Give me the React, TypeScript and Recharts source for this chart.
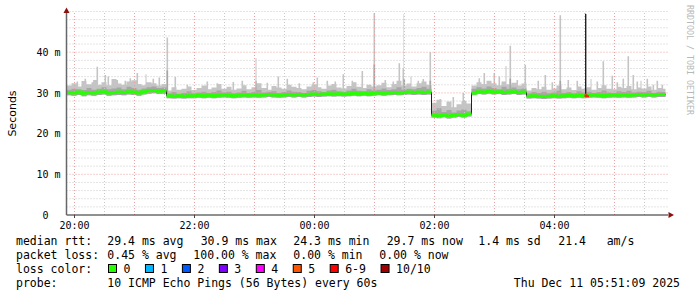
import React from 'react';
import { ComposedChart, Area, Line, XAxis, YAxis, ReferenceLine } from 'recharts';

// ---- data (ms), sampled every 5 minutes starting at 19:52 ----
const STEP_MIN = 5;
const DATA_END_MIN = 599;
const SPIKE_WIDTH_MIN = 1.6;

const medianMs = [
  30.1, 30.0, 30.2, 29.9, 30.1, 30.0, 30.2, 30.3, 30.0, 30.1, 30.2, 30.1, 30.3, 30.2, 30.0, 30.3, 30.5, 30.6, 30.4, 30.5,
  29.3, 29.2, 29.3, 29.2, 29.3, 29.3, 29.4, 29.3, 29.4, 29.3, 29.4, 29.5, 29.4, 29.3, 29.4, 29.5, 29.4, 29.5, 29.4, 29.5,
  29.6, 29.5, 29.4, 29.5, 29.6, 29.5, 29.6, 29.5, 29.6, 29.7, 29.6, 29.7, 29.8, 29.7, 29.8, 29.7, 29.8, 29.9, 29.8, 29.9,
  29.8, 29.9, 30.0, 29.9, 30.0, 30.1, 30.0, 30.1, 30.2, 30.1, 30.2, 30.1, 30.2,
  24.5, 24.4, 24.6, 24.3, 24.5, 24.7, 24.5, 24.8,
  30.0, 30.3, 30.2, 30.4, 30.2, 30.3, 30.1, 30.2, 30.3, 30.1, 30.2,
  29.2, 29.3, 29.2, 29.1, 29.2, 29.3, 29.2, 29.3, 29.4, 29.3, 29.4, 29.3, 29.4, 29.5, 29.4, 29.3, 29.4, 29.5, 29.4, 29.5,
  29.4, 29.5, 29.6, 29.5, 29.6, 29.5, 29.6, 29.6,
];

const smokeHiMs = [
  31.8, 32.4, 31.6, 32.9, 32.1, 33.2, 32.0, 32.6, 31.9, 33.4, 32.3, 32.0, 32.8, 33.1, 32.2, 31.9, 32.6, 32.4, 31.8, 32.2,
  30.6, 31.4, 30.8, 31.0, 31.6, 30.7, 31.2, 31.8, 30.9, 31.3, 32.2, 31.0, 31.5, 30.8, 31.1, 31.9, 30.9, 31.4, 32.4, 31.2,
  30.8, 31.7, 31.3, 31.0, 32.0, 31.5, 31.2, 30.9, 31.6, 32.1, 31.4, 31.0, 31.8, 32.2, 31.3, 31.1, 31.7, 32.6, 31.5, 31.2,
  32.0, 31.6, 31.9, 32.5, 31.4, 32.2, 33.0, 31.8, 32.3, 31.6, 32.4, 32.8, 32.0,
  27.6, 28.3, 26.8, 27.9, 26.5, 27.2, 28.0, 27.4,
  31.8, 32.6, 32.2, 33.0, 32.4, 31.9, 32.8, 32.1, 32.5, 31.8, 32.3,
  30.6, 31.2, 30.9, 31.5, 30.8, 31.1, 31.8, 30.9, 31.3, 30.7, 31.6, 31.0, 31.4, 30.8, 31.2, 31.9, 31.0, 30.9, 31.5, 31.2,
  31.7, 30.9, 31.3, 31.1, 31.6, 30.8, 31.2, 31.0,
];

const smokeMidMs = [
  30.8, 31.0, 30.9, 30.7, 31.2, 30.8, 31.0, 31.4, 30.9, 31.1, 31.3, 30.9, 31.5, 31.2, 30.8, 31.1, 31.4, 31.6, 31.2, 31.3,
  29.9, 30.2, 29.8, 30.0, 30.4, 29.9, 30.1, 30.3, 30.0, 30.2, 30.6, 30.1, 30.3, 29.9, 30.1, 30.5, 30.0, 30.2, 30.7, 30.1,
  30.3, 30.4, 30.0, 30.2, 30.6, 30.3, 30.2, 30.0, 30.5, 30.7, 30.4, 30.2, 30.6, 30.8, 30.4, 30.3, 30.6, 31.0, 30.5, 30.4,
  30.9, 30.6, 30.8, 31.1, 30.7, 30.9, 31.4, 30.8, 31.0, 30.9, 31.2, 31.5, 31.0,
  25.6, 26.2, 25.3, 25.8, 25.2, 25.7, 26.0, 25.5,
  31.0, 31.4, 31.1, 31.6, 31.2, 30.9, 31.5, 31.0, 31.3, 30.9, 31.1,
  29.9, 30.2, 30.0, 30.3, 29.9, 30.1, 30.5, 30.0, 30.2, 29.9, 30.4, 30.1, 30.3, 30.0, 30.2, 30.6, 30.1, 30.0, 30.4, 30.2,
  30.5, 30.1, 30.3, 30.2, 30.5, 30.0, 30.3, 30.2,
];

const smokeLoMs = [
  29.4, 29.3, 29.5, 29.2, 29.4, 29.3, 29.5, 29.6, 29.3, 29.4, 29.5, 29.4, 29.6, 29.5, 29.3, 29.6, 29.8, 29.9, 29.7, 29.8,
  28.7, 28.6, 28.7, 28.6, 28.7, 28.7, 28.8, 28.7, 28.8, 28.7, 28.8, 28.9, 28.8, 28.7, 28.8, 28.9, 28.8, 28.9, 28.8, 28.9,
  29.0, 28.9, 28.8, 28.9, 29.0, 28.9, 29.0, 28.9, 29.0, 29.1, 29.0, 29.1, 29.2, 29.1, 29.2, 29.1, 29.2, 29.3, 29.2, 29.3,
  29.2, 29.3, 29.4, 29.3, 29.4, 29.5, 29.4, 29.5, 29.6, 29.5, 29.6, 29.5, 29.6,
  23.9, 23.8, 24.0, 23.7, 23.9, 24.1, 23.9, 24.2,
  29.4, 29.7, 29.6, 29.8, 29.6, 29.7, 29.5, 29.6, 29.7, 29.5, 29.6,
  28.6, 28.7, 28.6, 28.5, 28.6, 28.7, 28.6, 28.7, 28.8, 28.7, 28.8, 28.7, 28.8, 28.9, 28.8, 28.7, 28.8, 28.9, 28.8, 28.9,
  28.8, 28.9, 29.0, 28.9, 29.0, 28.9, 29.0, 29.0,
];

// [minute offset from 19:52, peak ms]
const smokeSpikes: [number, number][] = [
  [10, 32.8], [18, 33.5], [25, 32.6], [30, 36.4], [38, 34.4], [41, 34.0], [50, 33.2], [58, 33.0], [63, 33.6],
  [70, 34.9], [79, 34.6], [86, 33.5], [92, 33.8], [100, 43.6], [108, 33.9], [120, 32.0], [140, 32.8], [150, 32.4],
  [166, 32.7], [175, 33.0], [189, 38.5], [200, 32.5], [211, 34.0], [220, 33.5], [232, 32.4], [246, 32.6],
  [250, 33.8], [260, 33.0], [268, 32.8], [276, 34.6], [285, 33.0], [295, 35.4], [307, 49.6], [318, 33.2],
  [326, 32.8], [332, 37.3], [336, 36.0], [337, 49.4], [344, 34.0], [351, 33.0], [356, 33.4], [363, 40.0],
  [373, 28.5], [386, 29.0], [396, 30.0], [412, 33.6], [417, 34.9], [427, 34.9], [432, 34.0], [439, 36.6],
  [443, 41.6], [450, 33.2], [458, 36.9], [471, 33.0], [478, 34.4], [485, 32.6], [493, 49.1], [501, 33.2],
  [510, 33.0], [524, 33.4], [530, 32.8], [536, 37.8], [545, 34.2], [550, 32.6], [556, 33.5], [561, 39.0],
  [566, 34.4], [570, 32.8], [574, 33.0], [580, 33.5], [586, 32.0], [590, 33.0], [595, 32.0],
];
const midSpikes: [number, number][] = [
  [100, 35.5], [189, 33.0], [307, 37.0], [337, 33.5], [363, 33.0], [443, 33.5], [493, 33.0],
];
const medianSpikes: [number, number][] = [[519, 49.4]];
const medianBreaks = [100, 365, 405, 460];
const lossMarkMinutes = [518, 521];

const xTickMinutes = [8, 128, 248, 368, 488];
const xTickLabels = ['20:00', '22:00', '00:00', '02:00', '04:00'];
const yTicks = [0, 10, 20, 30, 40];
const majorGridMinutes = [8, 68, 128, 188, 248, 308, 368, 428, 488, 548];
const minorGridMinutes = [38, 98, 158, 218, 278, 338, 398, 458, 518, 578];
const majorGridMs = [10, 20, 30, 40];
const minorGridMs = [2, 4, 6, 8, 12, 14, 16, 18, 22, 24, 26, 28, 32, 34, 36, 38, 42, 44, 46, 48, 50];

const statRows: string[][] = [
  ['median rtt:', '29.4 ms avg', '30.9 ms max', '24.3 ms min', '29.7 ms now', '1.4 ms sd', '21.4', 'am/s'],
  ['packet loss:', '0.45 % avg', '100.00 % max', '0.00 % min', '0.00 % now'],
];
const lossLabels = ['0', '1', '2', '3', '4', '5', '6-9', '10/10'];
const lossColors = ['#26ff00', '#00b8ff', '#0059ff', '#7e00ff', '#ff00ff', '#ff5500', '#ff0000', '#a10000'];
const probeText = '10 ICMP Echo Pings (56 Bytes) every 60s';
const stampText = 'Thu Dec 11 05:51:09 2025';
const watermark = 'RRDTOOL / TOBI OETIKER';

// ---- build series rows ----
type BandRow = { t: number; range: [number, number]; p: number };
function buildBand(hi: number[], lo: number[], spikes: [number, number][]) {
  const rows: BandRow[] = hi.map((h, i) => ({ t: i * STEP_MIN, range: [lo[i], h], p: 0 }));
  spikes.forEach(([t, v]) => {
    const i = Math.floor(t / STEP_MIN);
    rows.push({ t, range: [lo[i], v], p: 1 });
    const end = t + SPIKE_WIDTH_MIN;
    if (end < (i + 1) * STEP_MIN) rows.push({ t: end, range: [lo[i], hi[i]], p: 2 });
  });
  const last = hi.length - 1;
  rows.push({ t: DATA_END_MIN, range: [lo[last], hi[last]], p: 3 });
  rows.sort((a, b) => a.t - b.t || a.p - b.p);
  return rows;
}
const lightBand = buildBand(smokeHiMs, smokeLoMs, smokeSpikes);
const darkBand = buildBand(smokeMidMs, smokeLoMs, midSpikes);

type LineRow = { t: number; v: number | null; p: number };
const blackRows: LineRow[] = medianMs.map((v, i) => ({ t: i * STEP_MIN, v, p: 0 }));
medianSpikes.forEach(([t, v]) => {
  const i = Math.floor(t / STEP_MIN);
  blackRows.push({ t, v, p: 1 });
  blackRows.push({ t: t + 0.4, v: medianMs[i], p: 2 });
});
blackRows.push({ t: DATA_END_MIN, v: medianMs[medianMs.length - 1], p: 3 });
blackRows.sort((a, b) => a.t - b.t || a.p - b.p);

const greenRows: { t: number; v: number | null }[] = [];
medianMs.forEach((v, i) => {
  const t = i * STEP_MIN;
  if (medianBreaks.includes(t)) {
    greenRows.push({ t, v: medianMs[i - 1] });
    greenRows.push({ t, v: null });
  }
  greenRows.push({ t, v });
});
greenRows.push({ t: DATA_END_MIN, v: medianMs[medianMs.length - 1] });

const lossRows = lossMarkMinutes.map((t) => ({ t, v: medianMs[Math.floor(t / STEP_MIN)] }));

const MONO = 'DejaVu Sans Mono, monospace';

const YTick = (props: any) => {
  const { x, y, payload } = props;
  const label = payload.value === 0 ? '0  ' : `${payload.value} m`;
  return (
    <text x={x} y={y} dy={3.6} textAnchor="end" fontFamily={MONO} fontSize={10} fill="#000" style={{ whiteSpace: 'pre' }}>
      {label}
    </text>
  );
};

const XTick = (props: any) => {
  const { x, payload } = props;
  const idx = xTickMinutes.indexOf(payload.value);
  return (
    <text x={x} y={228.5} textAnchor="middle" fontFamily={MONO} fontSize={10} fill="#000">
      {xTickLabels[idx]}
    </text>
  );
};

const CH = 6.95;

export default function App() {
  const rowY = [245, 259, 273, 287];
  const statX = [
    [16, 107.3, 200.7, 293.3, 386.7, 478.3, 558.3, 606.7],
    [16, 107.3, 193.3, 293.3, 379.3],
  ];
  const boxXs: number[] = [];
  let bx = 108.5;
  lossLabels.forEach((l) => {
    boxXs.push(bx);
    bx = bx + 15 + l.length * CH + 15;
  });

  return (
    <div style={{ position: 'absolute', left: 0, top: 0, width: 697, height: 297, background: '#fff' }}>
      <ComposedChart width={697} height={297} margin={{ top: 11.5, right: 29, bottom: 0, left: 0 }}>
        <XAxis
          type="number"
          dataKey="t"
          domain={[0, 601.5]}
          ticks={xTickMinutes}
          tick={<XTick />}
          tickSize={3}
          tickLine={{ stroke: '#444' }}
          axisLine={{ stroke: '#222' }}
          allowDataOverflow
          height={82}
        />
        <YAxis
          type="number"
          domain={[0, 50]}
          ticks={yTicks}
          tick={<YTick />}
          tickSize={0}
          tickMargin={6}
          axisLine={{ stroke: '#666', strokeWidth: 1.5 }}
          allowDataOverflow
          width={66.5}
        />
        {minorGridMs.map((v) => (
          <ReferenceLine key={'hm' + v} y={v} stroke="#c8c8c8" strokeDasharray="1 2" />
        ))}
        {minorGridMinutes.map((t) => (
          <ReferenceLine key={'vm' + t} x={t} stroke="#c8c8c8" strokeDasharray="1 2" />
        ))}
        {majorGridMs.map((v) => (
          <ReferenceLine key={'hM' + v} y={v} stroke="#eda0a0" strokeDasharray="1 2" />
        ))}
        {majorGridMinutes.map((t) => (
          <ReferenceLine key={'vM' + t} x={t} stroke="#eda0a0" strokeDasharray="1 2" />
        ))}
        <Area
          data={lightBand}
          dataKey="range"
          type="stepAfter"
          stroke="none"
          fill="#c4c4c4"
          fillOpacity={1}
          isAnimationActive={false}
          dot={false}
          activeDot={false}
        />
        <Area
          data={darkBand}
          dataKey="range"
          type="stepAfter"
          stroke="none"
          fill="#a6a6a6"
          fillOpacity={1}
          isAnimationActive={false}
          dot={false}
          activeDot={false}
        />
        <Line
          data={blackRows}
          dataKey="v"
          type="stepAfter"
          stroke="#222"
          strokeWidth={1}
          dot={false}
          activeDot={false}
          isAnimationActive={false}
        />
        <Line
          data={greenRows}
          dataKey="v"
          type="stepAfter"
          stroke="#26ff00"
          strokeWidth={3}
          dot={false}
          activeDot={false}
          connectNulls={false}
          isAnimationActive={false}
        />
        <Line
          data={lossRows}
          dataKey="v"
          type="stepAfter"
          stroke="#ff2000"
          strokeWidth={3}
          dot={false}
          activeDot={false}
          isAnimationActive={false}
        />
      </ComposedChart>
      <svg width={697} height={297} style={{ position: 'absolute', left: 0, top: 0, pointerEvents: 'none' }}>
        <polygon points="63.5,13 69.5,13 66.5,7.5" fill="#8b1010" />
        <polygon points="668.5,212 668.5,218 674,215" fill="#8b1010" />
        <text
          x={12}
          y={113.5}
          transform="rotate(-90 12 113.5)"
          textAnchor="middle"
          dominantBaseline="central"
          fontFamily="DejaVu Sans, sans-serif"
          fontSize={11}
          fill="#000"
        >
          Seconds
        </text>
        <text
          x={690}
          y={60}
          transform="rotate(90 690 60)"
          textAnchor="middle"
          dominantBaseline="central"
          fontFamily={MONO}
          fontSize={8.3}
          fill="#b8b8b8"
        >
          {watermark}
        </text>
        {statRows.map((row, r) =>
          row.map((s, c) => (
            <text key={r + '-' + c} x={statX[r][c]} y={rowY[r]} fontFamily={MONO} fontSize={11.5} fill="#000" style={{ whiteSpace: 'pre' }}>
              {s}
            </text>
          ))
        )}
        <text x={16} y={rowY[2]} fontFamily={MONO} fontSize={11.5} fill="#000">
          loss color:
        </text>
        {lossLabels.map((l, i) => (
          <g key={'lc' + i}>
            <rect x={boxXs[i]} y={264.5} width={8} height={8} fill={lossColors[i]} stroke="#000" strokeWidth={1} />
            <text x={boxXs[i] + 15} y={rowY[2]} fontFamily={MONO} fontSize={11.5} fill="#000">
              {l}
            </text>
          </g>
        ))}
        <text x={16} y={rowY[3]} fontFamily={MONO} fontSize={11.5} fill="#000">
          probe:
        </text>
        <text x={107.3} y={rowY[3]} fontFamily={MONO} fontSize={11.5} fill="#000">
          {probeText}
        </text>
        <text x={680} y={rowY[3]} textAnchor="end" fontFamily={MONO} fontSize={11.5} fill="#000">
          {stampText}
        </text>
      </svg>
    </div>
  );
}
